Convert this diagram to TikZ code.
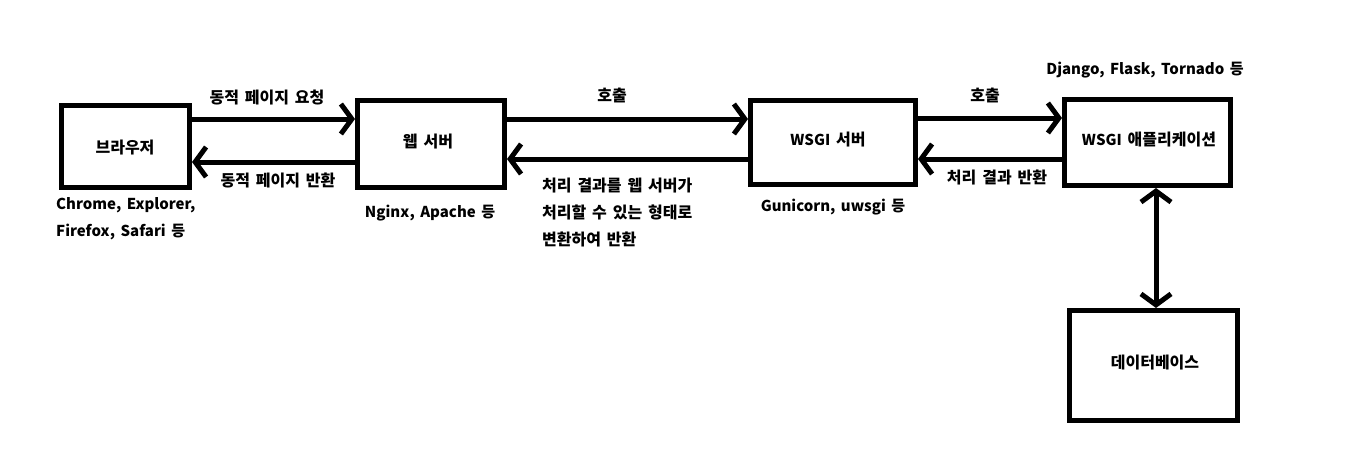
\documentclass[tikz,border=0pt]{standalone}
\usepackage{fontspec}
\setmainfont{Noto Sans CJK KR}[WordSpace=1.6]
\usetikzlibrary{arrows.meta}
\newcommand{\lat}[1]{{\fontsize{15}{27}\selectfont #1}}
\begin{document}
\begin{tikzpicture}[x=1pt,y=-1pt,
  every node/.style={font=\fontsize{16}{27}\selectfont\bfseries, inner sep=0pt},
  latn/.style={font=\fontsize{15}{27}\selectfont\bfseries},
  box/.style={draw=black, line width=5pt, fill=white},
  arr/.style={line width=5pt, -{Straight Barb[length=11pt,width=30pt,line width=5pt]}},
  darr/.style={line width=5pt, {Straight Barb[length=11pt,width=30pt,line width=5pt]}-{Straight Barb[length=11pt,width=30pt,line width=5pt]}}]
\useasboundingbox[fill=white] (0,0) rectangle (1352,455);
% boxes
\node[box, minimum width=128pt, minimum height=82pt] (br) at (125.5,146.5) {};
\node[box, minimum width=147pt, minimum height=87pt] (web) at (431,144) {};
\node[box, minimum width=165pt, minimum height=84pt] (wsgi) at (833,142.5) {};
\node[box, minimum width=166pt, minimum height=86pt] (app) at (1147.5,142.5) {};
\node[box, minimum width=168pt, minimum height=110pt] (db) at (1153.5,365.5) {};
% box texts
\node (brt) at (125,148) {브라우저};
\node (webt) at (428,142) {웹 서버};
\node (wsgit) at (828,140) {\lat{WSGI} 서버};
\node (appt) at (1149,140) {\lat{WSGI} 애플리케이션};
\node (dbt) at (1155,363) {데이터베이스};
% connectors
\draw[arr] (br.east |- 0,119) -- (web.west |- 0,119);
\draw[arr] (web.west |- 0,162) -- (br.east |- 0,162);
\draw[arr] (web.east |- 0,119) -- (wsgi.west |- 0,119);
\draw[arr] (wsgi.west |- 0,159) -- (web.east |- 0,159);
\draw[arr] (wsgi.east |- 0,118) -- (app.west |- 0,118);
\draw[arr] (app.west |- 0,159) -- (wsgi.east |- 0,159);
\draw[darr] (1156,0 |- app.south) -- (1156,0 |- db.north);
% labels
\node (l1) at (267,98) {동적 페이지 요청};
\node (l2) at (278,180) {동적 페이지 반환};
\node[latn, anchor=west, align=left] (l3) at (56,218.5) {Chrome, Explorer,\\Firefox, Safari 등};
\node[latn] (l4) at (430,213) {Nginx, Apache 등};
\node (l5) at (612,95) {호출};
\node[anchor=west, align=left] (l6) at (542,213) {처리 결과를 웹 서버가\\처리할 수 있는 형태로\\변환하여 반환};
\node[latn] (l7) at (833,207) {Gunicorn, uwsgi 등};
\node (l8) at (985,95) {호출};
\node (l9) at (997,177) {처리 결과 반환};
\node[latn] (l10) at (1145,70) {Django, Flask, Tornado 등};
\end{tikzpicture}
\end{document}
